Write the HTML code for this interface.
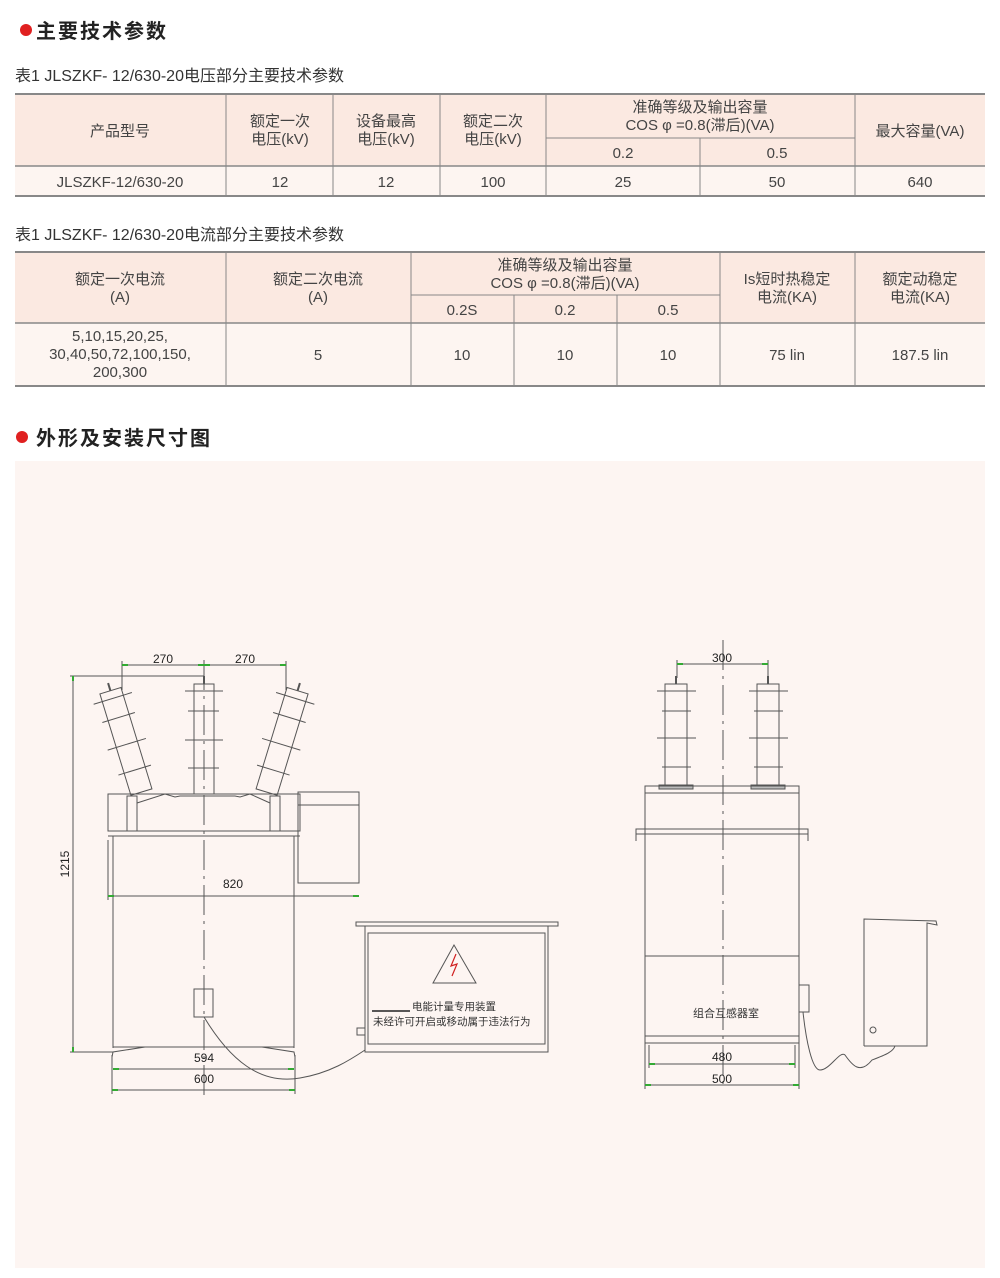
<!DOCTYPE html>
<html><head><meta charset="utf-8"><style>
html,body{margin:0;padding:0;background:#fff;}
svg{display:block;font-family:"Liberation Sans","Noto Sans CJK SC",sans-serif;}
</style></head><body>
<svg width="1000" height="1278" viewBox="0 0 1000 1278" xmlns="http://www.w3.org/2000/svg">
<!-- headings -->
<circle cx="26" cy="30" r="6" fill="#e02020"/>
<text x="36" y="38" font-size="20" font-weight="bold" fill="#222" font-family="Noto Sans CJK SC, sans-serif" letter-spacing="2">主要技术参数</text>
<text x="15" y="81" font-size="16" fill="#333">表1 JLSZKF- 12/630-20电压部分主要技术参数</text>

<!-- table 1 -->
<rect x="15" y="94" width="970" height="72" fill="#fbe9e1"/>
<rect x="15" y="166" width="970" height="30" fill="#fdf5f1"/>
<g stroke="#888" stroke-width="1" fill="none">
<line x1="15" y1="94" x2="985" y2="94" stroke-width="2"/>
<line x1="15" y1="166" x2="985" y2="166" stroke-width="1.5"/>
<line x1="15" y1="196" x2="985" y2="196" stroke-width="2"/>
<line x1="546" y1="138" x2="855" y2="138"/>
<line x1="226" y1="94" x2="226" y2="196"/><line x1="333" y1="94" x2="333" y2="196"/>
<line x1="440" y1="94" x2="440" y2="196"/><line x1="546" y1="94" x2="546" y2="196"/>
<line x1="700" y1="138" x2="700" y2="196"/><line x1="855" y1="94" x2="855" y2="196"/>
</g>
<g font-size="15" fill="#444" text-anchor="middle">
<text x="120" y="136">产品型号</text>
<text x="280" y="126">额定一次</text><text x="280" y="144">电压(kV)</text>
<text x="386" y="126">设备最高</text><text x="386" y="144">电压(kV)</text>
<text x="493" y="126">额定二次</text><text x="493" y="144">电压(kV)</text>
<text x="700" y="112">准确等级及输出容量</text><text x="700" y="130">COS φ =0.8(滞后)(VA)</text>
<text x="623" y="158">0.2</text><text x="777" y="158">0.5</text>
<text x="920" y="136">最大容量(VA)</text>
<text x="120" y="187">JLSZKF-12/630-20</text>
<text x="280" y="187">12</text><text x="386" y="187">12</text><text x="493" y="187">100</text>
<text x="623" y="187">25</text><text x="777" y="187">50</text><text x="920" y="187">640</text>
</g>

<text x="15" y="240" font-size="16" fill="#333">表1 JLSZKF- 12/630-20电流部分主要技术参数</text>
<!-- table 2 -->
<rect x="15" y="252" width="970" height="71" fill="#fbe9e1"/>
<rect x="15" y="323" width="970" height="63" fill="#fdf5f1"/>
<g stroke="#888" stroke-width="1" fill="none">
<line x1="15" y1="252" x2="985" y2="252" stroke-width="2"/>
<line x1="15" y1="323" x2="985" y2="323" stroke-width="1.5"/>
<line x1="15" y1="386" x2="985" y2="386" stroke-width="2"/>
<line x1="411" y1="295" x2="720" y2="295"/>
<line x1="226" y1="252" x2="226" y2="386"/><line x1="411" y1="252" x2="411" y2="386"/>
<line x1="514" y1="295" x2="514" y2="386"/><line x1="617" y1="295" x2="617" y2="386"/>
<line x1="720" y1="252" x2="720" y2="386"/><line x1="855" y1="252" x2="855" y2="386"/>
</g>
<g font-size="15" fill="#444" text-anchor="middle">
<text x="120" y="284">额定一次电流</text><text x="120" y="302">(A)</text>
<text x="318" y="284">额定二次电流</text><text x="318" y="302">(A)</text>
<text x="565" y="270">准确等级及输出容量</text><text x="565" y="288">COS φ =0.8(滞后)(VA)</text>
<text x="462" y="315">0.2S</text><text x="565" y="315">0.2</text><text x="668" y="315">0.5</text>
<text x="787" y="284">Is短时热稳定</text><text x="787" y="302">电流(KA)</text>
<text x="920" y="284">额定动稳定</text><text x="920" y="302">电流(KA)</text>
<text x="120" y="341">5,10,15,20,25,</text><text x="120" y="359">30,40,50,72,100,150,</text><text x="120" y="377">200,300</text>
<text x="318" y="360">5</text><text x="462" y="360">10</text><text x="565" y="360">10</text><text x="668" y="360">10</text>
<text x="787" y="360">75 lin</text><text x="920" y="360">187.5 lin</text>
</g>

<circle cx="22" cy="437" r="6" fill="#e02020"/>
<text x="36" y="445" font-size="20" font-weight="bold" fill="#222" font-family="Noto Sans CJK SC, sans-serif" letter-spacing="2">外形及安装尺寸图</text>

<rect x="15" y="461" width="970" height="807" fill="#fdf5f2"/>

<!-- LEFT DRAWING -->
<g stroke="#555" stroke-width="1" fill="none">
<!-- 1215 dim -->
<line x1="73" y1="676" x2="73" y2="1052"/>
<line x1="70" y1="676" x2="204" y2="676"/>
<line x1="70" y1="1052" x2="113" y2="1052"/>
<!-- 270 dims -->
<line x1="122" y1="665" x2="286" y2="665"/>
<line x1="122" y1="661" x2="122" y2="690"/><line x1="286" y1="661" x2="286" y2="690"/>
<!-- centre line -->
<line x1="204" y1="660" x2="204" y2="1100" stroke-dasharray="30,6,3,6"/>
<!-- top cover -->
<rect x="108" y="794" width="192" height="37"/>
<line x1="108" y1="831" x2="300" y2="831"/>
<line x1="108" y1="836" x2="300" y2="836"/>
<rect x="127" y="796" width="10" height="35"/><rect x="270" y="796" width="10" height="35"/>
<polyline points="137,803 165,794 175,797 180,796 235,796 240,797 250,794 270,803"/>
<!-- body -->
<line x1="113" y1="836" x2="113" y2="1048"/><line x1="294" y1="836" x2="294" y2="1048"/>
<line x1="113" y1="1047" x2="294" y2="1047"/>
<polyline points="112,1057 113,1052 145,1047"/><polyline points="295,1057 294,1052 262,1047"/>
<!-- side box -->
<rect x="298" y="792" width="61" height="91"/>
<line x1="298" y1="805" x2="359" y2="805"/>
<!-- 820 dim -->
<line x1="108" y1="896" x2="359" y2="896"/>
<line x1="108" y1="840" x2="108" y2="900"/>
<!-- 594/600 -->
<line x1="113" y1="1069" x2="294" y2="1069"/>
<line x1="112" y1="1090" x2="295" y2="1090"/>
<line x1="112" y1="1055" x2="112" y2="1094"/><line x1="295" y1="1055" x2="295" y2="1094"/>
<!-- centre bushing -->
<rect x="194" y="684" width="20" height="110"/>
<line x1="185" y1="691" x2="223" y2="691"/><line x1="188" y1="711" x2="219" y2="711"/>
<line x1="185" y1="740" x2="223" y2="740"/><line x1="188" y1="768" x2="219" y2="768"/>
<line x1="204" y1="676" x2="204" y2="684" stroke-width="2"/>
<!-- left inclined bushing -->
<g transform="translate(142,794) rotate(-17)">
<rect x="-11" y="-108" width="22" height="106"/>
<line x1="-20" y1="-100" x2="20" y2="-100"/><line x1="-17" y1="-80" x2="17" y2="-80"/>
<line x1="-20" y1="-52" x2="20" y2="-52"/><line x1="-17" y1="-25" x2="17" y2="-25"/>
<line x1="0" y1="-108" x2="0" y2="-116" stroke-width="2"/>
</g>
<g transform="translate(266,794) rotate(17)">
<rect x="-11" y="-108" width="22" height="106"/>
<line x1="-20" y1="-100" x2="20" y2="-100"/><line x1="-17" y1="-80" x2="17" y2="-80"/>
<line x1="-20" y1="-52" x2="20" y2="-52"/><line x1="-17" y1="-25" x2="17" y2="-25"/>
<line x1="0" y1="-108" x2="0" y2="-116" stroke-width="2"/>
</g>
<!-- small rect + cable -->
<rect x="194" y="989" width="19" height="28"/>
<path d="M204,1017 C230,1060 260,1085 300,1078 C330,1073 350,1060 365,1050"/>
<!-- meter box -->
<rect x="356" y="922" width="202" height="4"/>
<rect x="365" y="926" width="183" height="126"/>
<rect x="368" y="933" width="177" height="111"/>
<rect x="357" y="1028" width="8" height="7"/>
<polygon points="454,945 433,983 476,983"/>
</g>
<path d="M456,954 L451,966 L457,964 L452,976" stroke="#d02020" fill="none" stroke-width="1.2"/>
<line x1="372" y1="1011" x2="410" y2="1011" stroke="#222" stroke-width="1.5"/>
<g font-size="10.5" fill="#333" font-family="Noto Sans CJK SC, sans-serif">
<text x="412" y="1010">电能计量专用装置</text>
<text x="373" y="1025">未经许可开启或移动属于违法行为</text>
</g>
<g font-size="12" fill="#222" text-anchor="middle">
<text x="163" y="663">270</text><text x="245" y="663">270</text>
<text x="233" y="888">820</text><text x="204" y="1062">594</text><text x="204" y="1083">600</text>
<text transform="translate(69,864) rotate(-90)" font-size="12">1215</text>
</g>

<!-- RIGHT DRAWING -->
<g stroke="#555" stroke-width="1" fill="none">
<line x1="677" y1="664" x2="768" y2="664"/>
<line x1="677" y1="660" x2="677" y2="678"/><line x1="768" y1="660" x2="768" y2="678"/>
<line x1="723" y1="640" x2="723" y2="1090" stroke-dasharray="30,6,3,6"/>
<rect x="665" y="684" width="22" height="101"/>
<line x1="657" y1="691" x2="696" y2="691"/><line x1="662" y1="711" x2="691" y2="711"/>
<line x1="657" y1="738" x2="696" y2="738"/><line x1="662" y1="767" x2="691" y2="767"/>
<rect x="659" y="785" width="34" height="4" fill="#bbb"/>
<line x1="676" y1="676" x2="676" y2="684" stroke-width="2"/>
<rect x="757" y="684" width="22" height="101"/>
<line x1="749" y1="691" x2="788" y2="691"/><line x1="754" y1="711" x2="783" y2="711"/>
<line x1="749" y1="738" x2="788" y2="738"/><line x1="754" y1="767" x2="783" y2="767"/>
<rect x="751" y="785" width="34" height="4" fill="#bbb"/>
<line x1="768" y1="676" x2="768" y2="684" stroke-width="2"/>
<rect x="645" y="786" width="154" height="257"/>
<line x1="645" y1="793" x2="799" y2="793"/>
<rect x="636" y="829" width="172" height="5"/>
<line x1="636" y1="834" x2="636" y2="841"/><line x1="808" y1="834" x2="808" y2="841"/>
<line x1="645" y1="956" x2="799" y2="956"/>
<line x1="645" y1="1036" x2="799" y2="1036"/>
<rect x="799" y="985" width="10" height="27"/>
<line x1="649" y1="1064" x2="795" y2="1064"/><line x1="645" y1="1085" x2="799" y2="1085"/>
<line x1="649" y1="1045" x2="649" y2="1068"/><line x1="795" y1="1045" x2="795" y2="1068"/>
<line x1="645" y1="1043" x2="645" y2="1089"/><line x1="799" y1="1043" x2="799" y2="1089"/>
<polyline points="864,1046 864,919 936,921 937,925 927,923 927,1046 864,1046"/>
<circle cx="873" cy="1030" r="3"/>
<path d="M803,1012 C806,1040 812,1070 820,1070 C830,1070 840,1050 845,1055 C852,1065 860,1075 872,1060 C885,1055 893,1052 895,1046"/>
</g>
<g font-size="12" fill="#222" text-anchor="middle">
<text x="722" y="662">300</text><text x="722" y="1061">480</text><text x="722" y="1083">500</text>
</g>
<text x="726" y="1017" font-size="11" fill="#333" text-anchor="middle" font-family="Noto Sans CJK SC, sans-serif">组合互感器室</text>
<!-- green dim ticks -->
<g fill="#3a3">
<rect x="122" y="664" width="6" height="2"/><rect x="198" y="664" width="6" height="2"/><rect x="204" y="664" width="6" height="2"/><rect x="280" y="664" width="6" height="2"/>
<rect x="72" y="676" width="2" height="5"/><rect x="72" y="1047" width="2" height="5"/>
<rect x="108" y="895" width="6" height="2"/><rect x="353" y="895" width="6" height="2"/>
<rect x="113" y="1068" width="6" height="2"/><rect x="288" y="1068" width="6" height="2"/>
<rect x="112" y="1089" width="6" height="2"/><rect x="289" y="1089" width="6" height="2"/>
<rect x="677" y="663" width="6" height="2"/><rect x="762" y="663" width="6" height="2"/>
<rect x="649" y="1063" width="6" height="2"/><rect x="789" y="1063" width="6" height="2"/>
<rect x="645" y="1084" width="6" height="2"/><rect x="793" y="1084" width="6" height="2"/>
</g>
</svg>
</body></html>
